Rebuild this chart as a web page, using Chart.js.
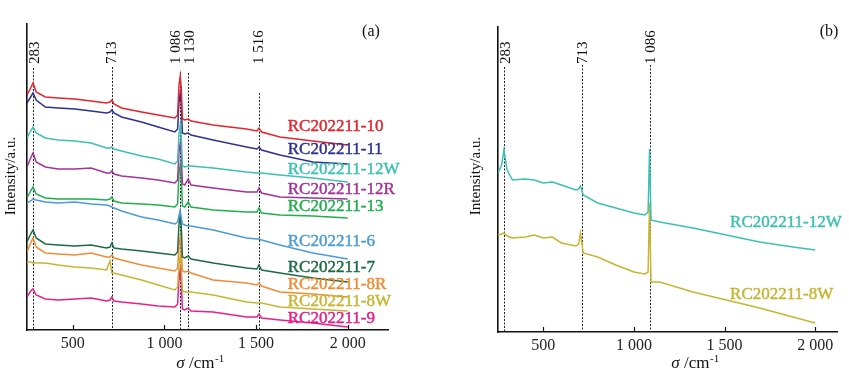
<!DOCTYPE html>
<html><head><meta charset="utf-8">
<script src="https://cdn.jsdelivr.net/npm/chart.js@4.4.1/dist/chart.umd.min.js"></script>
<style>
html,body{margin:0;padding:0;background:#fff;width:849px;height:378px;overflow:hidden}
canvas{position:absolute;top:0}
</style></head><body>
<canvas id="ca" width="420" height="378" style="left:0"></canvas>
<canvas id="cb" width="429" height="378" style="left:420px"></canvas>
<script>
// ---------- DATA ----------
const xTickValues = [500, 1000, 1500, 2000];
const peaksA = [283, 713, 1086, 1130, 1516];
const peaksB = [283, 713, 1086];

const wavenumbersA = [250, 270, 283, 300, 350, 420, 511, 600, 684, 703, 713, 725, 766, 875, 966, 1057, 1072, 1079, 1086, 1092, 1098, 1111, 1130, 1145, 1266, 1448, 1505, 1516, 1530, 1630, 1810, 2000];
const namesA = ['RC202211-10','RC202211-11','RC202211-12W','RC202211-12R','RC202211-13','RC202211-6','RC202211-7','RC202211-8R','RC202211-8W','RC202211-9'];
const rc10  = [235, 242, 247, 238, 233, 232, 231, 229, 227, 228, 230, 226, 222, 218, 215, 212, 215, 244, 254, 242, 211, 210, 211, 209, 205, 201, 199, 202, 198, 193, 189, 185];
const rc11  = [227, 233, 237, 230, 223, 222, 221, 219, 217, 218, 220, 217, 213, 208, 203, 198, 201, 227, 237, 225, 197, 196, 197, 195, 190, 183, 181, 183, 180, 175, 168, 166];
const rc12W = [192, 199, 203, 197, 192, 190, 189, 187, 182, 182, 183, 181, 179, 174, 171, 166, 169, 195, 205, 193, 164, 163, 164, 164, 162, 158, 157, 157, 157, 155, 152, 148];
const rc12R = [163, 172, 177, 168, 163, 161, 161, 162, 157, 157, 159, 156, 154, 152, 150, 147, 150, 177, 187, 175, 146, 145, 151, 145, 142, 138, 138, 142, 137, 133, 132, 131];
const rc13  = [132, 139, 143, 136, 132, 131, 131, 131, 130, 131, 133, 129, 127, 126, 125, 123, 126, 155, 165, 153, 124, 123, 128, 123, 120, 118, 118, 122, 117, 115, 114, 112];
const rc6   = [127, 129, 131, 130, 128, 127, 128, 126, 125, 124, 123, 122, 119, 113, 110, 106, 108, 114, 120, 112, 106, 105, 104, 104, 100, 92, 91, 91, 90, 85, 77, 71];
const rc7   = [88, 96, 100, 92, 86, 85, 84, 85, 82, 83, 87, 82, 81, 79, 77, 75, 78, 105, 115, 103, 73, 72, 74, 71, 67, 62, 61, 65, 60, 57, 52, 48];
const rc8R  = [78, 87, 92, 83, 77, 76, 75, 77, 73, 73, 75, 72, 70, 65, 62, 59, 62, 83, 93, 81, 59, 58, 59, 57, 50, 47, 45, 47, 44, 38, 36, 33];
const rc8W  = [68, 68, 67, 67, 67, 65, 63, 62, 60, 69, 57, 57, 55, 50, 45, 40, 43, 65, 75, 63, 39, 38, 38, 38, 35, 28, 27, 27, 27, 23, 21, 19];
const rc9   = [33, 39, 41, 35, 31, 30, 31, 32, 29, 30, 33, 29, 28, 26, 24, 23, 26, 50, 60, 48, 21, 20, 22, 19, 18, 13, 13, 16, 12, 10, 7, 3];

const wavenumbersB = [250, 270, 283, 300, 330, 400, 450, 500, 550, 600, 680, 695, 705, 720, 800, 900, 1000, 1060, 1078, 1086, 1094, 1142, 1325, 1510, 1693, 1877, 2000];
const namesB = ['RC202211-12W', 'RC202211-8W'];
const b12W = [159, 167, 182, 162, 152, 153, 152, 149, 150, 147, 142, 143, 146, 137, 129, 124, 119, 117, 120, 183, 112, 110, 104, 97, 90, 85, 82];
const b8W  = [97, 98, 99, 96, 94, 95, 97, 94, 95, 89, 86, 88, 99, 79, 75, 67, 60, 58, 60, 129, 50, 50, 40, 32, 24, 15, 9];

// ---------- STYLE ----------
const SERIF = '"Liberation Serif", "DejaVu Serif", serif';
const colorsA = ['#E5242B','#2E3192','#3CC0B4','#A3329A','#1FAF4B','#4A9BD6','#1D6B44','#F08C35','#C7B532','#E61F8A'];
const colorsB = ['#3CC0B4','#C7B532'];
const valuesA = [rc10, rc11, rc12W, rc12R, rc13, rc6, rc7, rc8R, rc8W, rc9];
const valuesB = [b12W, b8W];

function fmt(v){ return String(v).replace(/\B(?=(\d{3})+(?!\d))/g, ' '); }

const decor = {
  id: 'decor',
  beforeDatasetsDraw(chart, args, o) {
    const ctx = chart.ctx, xs = chart.scales.x, area = chart.chartArea;
    ctx.save();
    ctx.strokeStyle = '#222'; ctx.lineWidth = 1; ctx.setLineDash([2, 1.5]);
    o.peaks.forEach((p, i) => {
      const px = Math.round(xs.getPixelForValue(p)) + 0.5;
      ctx.beginPath(); ctx.moveTo(px, o.lineTop[i]); ctx.lineTo(px, area.bottom); ctx.stroke();
    });
    ctx.restore();
  },
  afterDraw(chart, args, o) {
    const ctx = chart.ctx, xs = chart.scales.x, ys = chart.scales.y, area = chart.chartArea;
    ctx.save();
    // inward ticks
    ctx.strokeStyle = '#111'; ctx.lineWidth = 1.2;
    xTickValues.forEach(v => {
      const px = Math.round(xs.getPixelForValue(v)) + 0.5;
      ctx.beginPath(); ctx.moveTo(px, area.bottom); ctx.lineTo(px, area.bottom - 5); ctx.stroke();
    });
    // peak labels
    ctx.fillStyle = '#111'; ctx.font = '15px ' + SERIF;
    ctx.textAlign = 'left'; ctx.textBaseline = 'middle';
    o.peaks.forEach((p, i) => {
      const px = xs.getPixelForValue(p) + o.labelDx[i];
      ctx.save(); ctx.translate(px, 64); ctx.rotate(-Math.PI / 2);
      ctx.fillText(fmt(p), 0, 0); ctx.restore();
    });
    // series labels
    ctx.font = '17px ' + SERIF; ctx.textBaseline = 'middle'; ctx.lineWidth = 0.45;
    o.labels.forEach(l => {
      ctx.fillStyle = l.color; ctx.strokeStyle = l.color;
      const px = xs.getPixelForValue(l.x), py = ys.getPixelForValue(l.y);
      ctx.fillText(l.text, px, py);
      ctx.strokeText(l.text, px, py);
    });
    // panel tag
    ctx.fillStyle = '#111'; ctx.font = '16px ' + SERIF; ctx.textAlign = 'center';
    ctx.fillText(o.tag, o.tagX, 32);
    // y title
    ctx.save(); ctx.translate(o.yTitleX, 176); ctx.rotate(-Math.PI / 2);
    ctx.font = '15px ' + SERIF; ctx.textAlign = 'center'; ctx.fillText('Intensity/a.u.', 0, 0);
    ctx.restore();
    // x title: σ /cm-1
    ctx.textAlign = 'left'; ctx.textBaseline = 'alphabetic';
    const f1 = 'italic 17px ' + SERIF, f2 = '17px ' + SERIF, f3 = '11px ' + SERIF;
    ctx.font = f1; const w1 = ctx.measureText('σ').width;
    ctx.font = f2; const w2 = ctx.measureText(' /cm').width;
    ctx.font = f3; const w3 = ctx.measureText('-1').width;
    let x0 = o.xTitleX - (w1 + w2 + w3) / 2, yb = 368;
    ctx.font = f1; ctx.fillText('σ', x0, yb); x0 += w1;
    ctx.font = f2; ctx.fillText(' /cm', x0, yb); x0 += w2;
    ctx.font = f3; ctx.fillText('-1', x0 + 0.5, yb - 6);
    ctx.restore();
  }
};

function makeChart(id, wn, vals, names, colors, cfg) {
  const datasets = vals.map((v, k) => ({
    label: names[k],
    data: wn.map((x, i) => ({ x: x, y: v[i] })),
    borderColor: colors[k], backgroundColor: colors[k],
    borderWidth: 1.5, pointRadius: 0, tension: 0, fill: false
  }));
  return new Chart(document.getElementById(id), {
    type: 'line',
    data: { datasets },
    options: {
      responsive: false, animation: false, devicePixelRatio: 1,
      layout: { padding: { left: 0, top: cfg.top, right: cfg.right, bottom: 0 } },
      plugins: { legend: { display: false }, tooltip: { enabled: false }, decor: cfg.decor },
      scales: {
        x: {
          type: 'linear', min: cfg.xmin, max: cfg.xmax,
          grid: { drawOnChartArea: false, drawTicks: false },
          border: { display: true, color: '#111', width: 1.6 },
          afterBuildTicks: s => { s.ticks = xTickValues.map(v => ({ value: v })); },
          afterFit: s => { s.height = cfg.xh; },
          ticks: { padding: 4, color: '#222', font: { family: SERIF, size: 16 }, callback: v => fmt(v), maxRotation: 0, autoSkip: false }
        },
        y: {
          type: 'linear', min: 0, max: cfg.ymax,
          grid: { drawOnChartArea: false, drawTicks: false },
          border: { display: true, color: '#111', width: 1.6 },
          ticks: { display: false },
          afterFit: s => { s.width = cfg.yw; }
        }
      }
    },
    plugins: [decor]
  });
}

const labelYA = [203, 180, 160, 140, 123, 88, 62, 45, 28, 11];
makeChart('ca', wavenumbersA, valuesA, namesA, colorsA, {
  top: 24, right: 32, xh: 48, yw: 27, xmin: 250, xmax: 2220, ymax: 306,
  decor: {
    peaks: peaksA, lineTop: [68, 67, 72, 73, 93], labelDx: [2, 0, -4, 2, 0],
    labels: namesA.map((n, k) => ({ text: n, x: 1673, y: labelYA[k], color: colorsA[k] })),
    tag: '(a)', tagX: 371, yTitleX: 11, xTitleX: 200
  }
});
const labelYB = [109, 37];
makeChart('cb', wavenumbersB, valuesB, namesB, colorsB, {
  top: 27, right: 12, xh: 46, yw: 78, xmin: 250, xmax: 2120, ymax: 305,
  decor: {
    peaks: peaksB, lineTop: [67, 65, 65], labelDx: [2, 1, 2],
    labels: namesB.map((n, k) => ({ text: n, x: 1530, y: labelYB[k], color: colorsB[k] })),
    tag: '(b)', tagX: 409, yTitleX: 56, xTitleX: 275
  }
});
</script>
</body></html>
